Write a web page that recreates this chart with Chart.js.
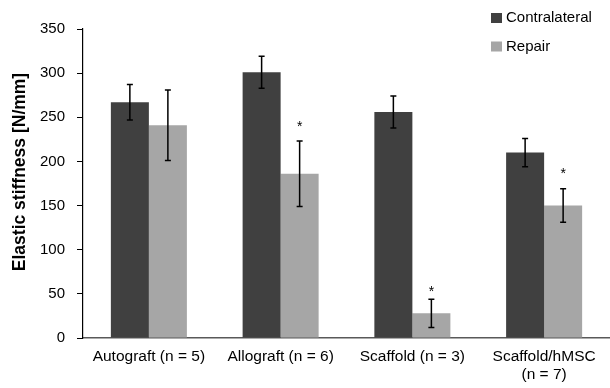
<!DOCTYPE html>
<html lang="en">
<head>
    <meta charset="UTF-8">
    <title>Elastic stiffness</title>
    <script src="https://cdn.jsdelivr.net/npm/chart.js"></script>
    <style>
        html, body { margin: 0; padding: 0; background: #fff; }
        #wrap { position: relative; width: 610px; height: 388px; }
    </style>
</head>
<body>
    <div id="wrap"><canvas id="stiffnessChart"></canvas></div>

    <script>
        // Data
        const groups = ['Autograft (n = 5)', 'Allograft (n = 6)', 'Scaffold (n = 3)', ['Scaffold/hMSC', '(n = 7)']];
        const contralateral = [267, 301, 256, 210];
        const repair = [241, 186, 28, 150];
        const contralateralErr = [20, 18, 18, 16];
        const repairErr = [40, 37, 16, 19];
        // level (in N/mm) of the "*" above repair bars that differ from contralateral
        const repairStarAt = [null, 243, 57, 190];
        const yTicks = [0, 50, 100, 150, 200, 250, 300, 350];

        const FONT = 'Liberation Sans, Arial, sans-serif';
        const DARK = '#404040';
        const LIGHT = '#a6a6a6';

        // error bars + asterisks
        const errorBars = {
            id: 'errorBars',
            afterDatasetsDraw(chart) {
                const ctx = chart.ctx;
                const y = chart.scales.y;
                const errs = [contralateralErr, repairErr];
                ctx.save();
                ctx.strokeStyle = '#000';
                ctx.lineWidth = 1.5;
                chart.data.datasets.forEach((ds, di) => {
                    chart.getDatasetMeta(di).data.forEach((bar, i) => {
                        const v = ds.data[i];
                        const e = errs[di][i];
                        const top = y.getPixelForValue(v + e);
                        const bot = y.getPixelForValue(v - e);
                        ctx.beginPath();
                        ctx.moveTo(bar.x, top);
                        ctx.lineTo(bar.x, bot);
                        ctx.moveTo(bar.x - 3, top);
                        ctx.lineTo(bar.x + 3, top);
                        ctx.moveTo(bar.x - 3, bot);
                        ctx.lineTo(bar.x + 3, bot);
                        ctx.stroke();
                        if (di === 1 && repairStarAt[i] != null) {
                            ctx.fillStyle = '#000';
                            ctx.font = '14px ' + FONT;
                            ctx.textAlign = 'center';
                            ctx.textBaseline = 'alphabetic';
                            ctx.fillText('*', bar.x, y.getPixelForValue(repairStarAt[i]) + 8);
                        }
                    });
                });
                ctx.restore();
            }
        };

        // legend in the top right corner and the rotated y title
        const extras = {
            id: 'extras',
            afterDraw(chart) {
                const ctx = chart.ctx;
                ctx.save();
                ctx.font = '15px ' + FONT;
                ctx.textBaseline = 'middle';
                ctx.textAlign = 'left';
                chart.data.datasets.forEach((ds, i) => {
                    const cy = 18 + i * 28.5;
                    ctx.fillStyle = ds.backgroundColor;
                    ctx.fillRect(491, cy - 5, 11, 10);
                    ctx.fillStyle = '#000';
                    ctx.fillText(ds.label, 506, cy);
                });

                ctx.translate(20, 172);
                ctx.rotate(-Math.PI / 2);
                ctx.font = 'bold 17.5px ' + FONT;
                ctx.textAlign = 'center';
                ctx.fillText('Elastic stiffness [N/mm]', 0, 0);
                ctx.restore();
            }
        };

        new Chart(document.getElementById('stiffnessChart'), {
            type: 'bar',
            data: {
                labels: groups,
                datasets: [
                    { label: 'Contralateral', data: contralateral, backgroundColor: DARK },
                    { label: 'Repair', data: repair, backgroundColor: LIGHT }
                ]
            },
            options: {
                responsive: true,
                maintainAspectRatio: false,
                animation: false,
                datasets: {
                    bar: { categoryPercentage: 0.577, barPercentage: 1.0 }
                },
                layout: { padding: { top: 29, right: 0, left: 0, bottom: 0 } },
                plugins: {
                    legend: { display: false },
                    tooltip: { enabled: false }
                },
                scales: {
                    x: {
                        grid: { display: false, drawTicks: false },
                        border: { display: true, color: '#595959', width: 1.5 },
                        ticks: {
                            color: '#000',
                            font: { family: FONT, size: 15.5 },
                            padding: 9,
                            maxRotation: 0,
                            autoSkip: false
                        },
                        afterFit(scale) { scale.height = 50; }
                    },
                    y: {
                        min: 0,
                        max: 350,
                        afterBuildTicks(scale) {
                            scale.ticks = yTicks.map(v => ({ value: v }));
                        },
                        grid: { display: true, drawOnChartArea: false, drawTicks: true, tickLength: 6, color: '#000' },
                        border: { display: true, color: '#000', width: 1.2 },
                        ticks: {
                            color: '#000',
                            font: { family: FONT, size: 15 },
                            padding: 12
                        },
                        afterFit(scale) { scale.width = 83; }
                    }
                }
            },
            plugins: [errorBars, extras]
        });
    </script>
</body>
</html>
